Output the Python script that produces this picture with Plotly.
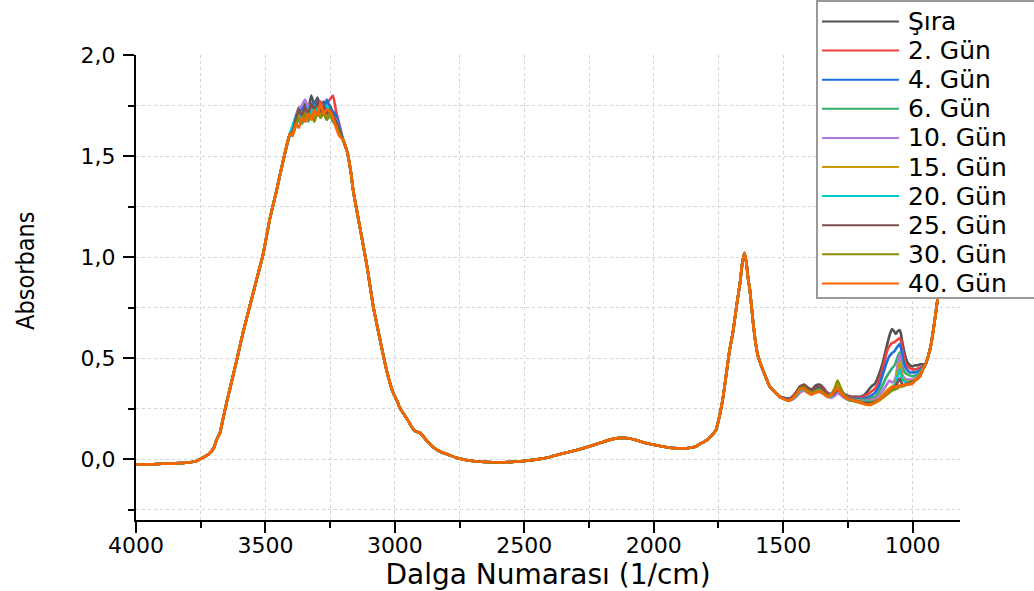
import plotly.graph_objects as go

# ---- series names and colours -------------------------------------------
labels = ["Şıra", "2. Gün", "4. Gün", "6. Gün", "10. Gün",
          "15. Gün", "20. Gün", "25. Gün", "30. Gün", "40. Gün"]
colors = ["#515151", "#F14040", "#1A6FDF", "#37AD6B", "#B177DE",
          "#CC9900", "#00CBCC", "#7D4E4E", "#8E8E00", "#FB6501"]

# ---- 4000-3405 cm-1: baseline and rising edge of the O-H band (all samples)
wn_rise = [4000, 3950, 3900, 3850, 3800, 3770, 3740, 3720, 3700, 3688, 3676,
           3664, 3650, 3637, 3611, 3586, 3560, 3534, 3508, 3483, 3457, 3431, 3405]
abs_rise = [-0.025, -0.025, -0.022, -0.02, -0.016, -0.01, 0.01, 0.025, 0.055, 0.10, 0.13,
            0.20, 0.28, 0.35, 0.49, 0.63, 0.76, 0.89, 1.02, 1.19, 1.33, 1.48, 1.61]

# ---- 3395-3215 cm-1: saturated O-H maximum, per sample
wn_top = [3395, 3383, 3371, 3359, 3347, 3335, 3323, 3311,
          3299, 3287, 3275, 3263, 3251, 3239, 3227, 3215]
top_sira = [1.63, 1.69, 1.74, 1.72, 1.76, 1.73, 1.80, 1.75, 1.79, 1.74, 1.77, 1.73, 1.75, 1.71, 1.69, 1.64]
top_g2 = [1.62, 1.67, 1.70, 1.73, 1.71, 1.75, 1.72, 1.76, 1.73, 1.77, 1.74, 1.76, 1.78, 1.80, 1.72, 1.66]
top_g4 = [1.62, 1.68, 1.71, 1.74, 1.72, 1.75, 1.73, 1.77, 1.74, 1.76, 1.73, 1.78, 1.74, 1.72, 1.70, 1.65]
top_g6 = [1.60, 1.65, 1.68, 1.66, 1.70, 1.67, 1.71, 1.68, 1.72, 1.69, 1.71, 1.68, 1.70, 1.67, 1.65, 1.62]
top_g10 = [1.64, 1.70, 1.73, 1.75, 1.78, 1.74, 1.76, 1.73, 1.77, 1.74, 1.75, 1.72, 1.73, 1.70, 1.68, 1.63]
top_g15 = [1.61, 1.66, 1.70, 1.68, 1.72, 1.69, 1.73, 1.70, 1.74, 1.71, 1.73, 1.70, 1.72, 1.69, 1.66, 1.62]
top_g20 = [1.65, 1.69, 1.68, 1.72, 1.70, 1.74, 1.71, 1.75, 1.72, 1.74, 1.71, 1.75, 1.72, 1.70, 1.67, 1.63]
top_g25 = [1.62, 1.68, 1.73, 1.70, 1.74, 1.71, 1.76, 1.73, 1.77, 1.72, 1.75, 1.71, 1.73, 1.70, 1.67, 1.63]
top_g30 = [1.61, 1.65, 1.69, 1.67, 1.71, 1.68, 1.70, 1.67, 1.72, 1.69, 1.72, 1.68, 1.71, 1.68, 1.65, 1.61]
top_g40 = [1.60, 1.66, 1.64, 1.69, 1.67, 1.71, 1.68, 1.73, 1.70, 1.76, 1.71, 1.73, 1.72, 1.69, 1.64, 1.60]

# ---- 3200-1514 cm-1: falling O-H edge, C-H, combination band, H-O-H bend
wn_mid = [3200, 3184, 3170, 3161, 3134, 3107, 3084, 3057, 3030, 3007,
          2990, 2981, 2953, 2935, 2922, 2902, 2875, 2852, 2820, 2798,
          2755, 2700, 2650, 2600, 2550, 2500, 2450, 2400, 2363, 2300,
          2247, 2200, 2160, 2131, 2100, 2070, 2043, 2000, 1950, 1910,
          1873, 1840, 1823, 1790, 1760, 1745, 1732, 1720, 1707, 1694,
          1680, 1667, 1658, 1650, 1643, 1635, 1629, 1616, 1607, 1597,
          1578, 1565, 1552, 1530, 1514]
abs_mid = [1.58, 1.52, 1.42, 1.33, 1.14, 0.95, 0.76, 0.59, 0.43, 0.33,
           0.285, 0.255, 0.20, 0.16, 0.14, 0.13, 0.09, 0.06, 0.035, 0.025,
           0.005, -0.008, -0.013, -0.015, -0.013, -0.008, 0.0, 0.012, 0.025, 0.045,
           0.065, 0.085, 0.10, 0.106, 0.104, 0.096, 0.085, 0.072, 0.06, 0.055,
           0.055, 0.062, 0.075, 0.10, 0.145, 0.22, 0.31, 0.42, 0.54, 0.63,
           0.76, 0.87, 0.97, 1.02, 0.98, 0.89, 0.84, 0.675, 0.58, 0.51,
           0.44, 0.40, 0.36, 0.33, 0.31]

# ---- 1500-962 cm-1: fingerprint region, per sample
wn_fp = [1500, 1480, 1465, 1450, 1435, 1420, 1405, 1390, 1375, 1360, 1345, 1330, 1315, 1300,
         1290, 1280, 1265, 1250, 1235, 1220, 1205, 1190, 1175, 1160, 1145,
         1130, 1115, 1100, 1090, 1080, 1070, 1065, 1060, 1050, 1045, 1040,
         1030, 1020, 1010, 1000, 990, 980, 970, 962]
fp_sira = [.305, .30, .31, .33, .36, .37, .355, .345, .365, .37, .355, .33, .325, .345,
           .36, .35, .325, .315, .31, .31, .31, .315, .335, .36, .375,
           .42, .48, .56, .61, .645, .63, .62, .63, .64, .62, .58,
           .52, .48, .465, .46, .465, .465, .47, .47]
fp_g2 = [.305, .30, .31, .33, .355, .365, .35, .34, .355, .36, .35, .325, .32, .34,
         .36, .345, .32, .31, .305, .305, .305, .31, .32, .335, .35,
         .39, .45, .53, .56, .575, .58, .585, .59, .60, .585, .55,
         .49, .46, .45, .445, .445, .45, .455, .46]
fp_g4 = [.305, .30, .305, .325, .35, .355, .345, .335, .345, .35, .34, .32, .315, .335,
         .35, .34, .315, .305, .30, .30, .30, .30, .305, .315, .33,
         .36, .42, .48, .51, .525, .535, .545, .555, .57, .55, .51,
         .46, .44, .43, .43, .43, .435, .445, .455]
fp_g6 = [.30, .295, .305, .32, .345, .35, .335, .33, .34, .345, .335, .315, .31, .33,
         .345, .335, .31, .30, .295, .295, .295, .295, .295, .305, .31,
         .335, .37, .41, .43, .45, .465, .48, .50, .53, .50, .46,
         .43, .42, .415, .41, .415, .42, .435, .45]
fp_g10 = [.30, .29, .295, .31, .33, .34, .33, .325, .33, .335, .325, .31, .305, .315,
          .33, .32, .305, .295, .29, .29, .29, .29, .29, .295, .30,
          .315, .34, .37, .39, .38, .39, .41, .45, .52, .48, .42,
          .40, .395, .395, .395, .40, .41, .425, .445]
fp_g15 = [.30, .29, .30, .315, .34, .35, .335, .33, .335, .34, .33, .315, .315, .345,
          .375, .35, .315, .30, .295, .29, .29, .285, .285, .29, .29,
          .30, .32, .34, .35, .36, .37, .39, .42, .48, .45, .41,
          .39, .385, .385, .39, .395, .405, .42, .44]
fp_g20 = [.30, .29, .30, .315, .34, .345, .33, .325, .33, .335, .325, .31, .31, .33,
          .345, .335, .31, .295, .29, .29, .285, .285, .285, .285, .285,
          .295, .31, .33, .34, .35, .36, .38, .40, .445, .42, .395,
          .385, .38, .38, .385, .39, .40, .415, .44]
fp_g25 = [.305, .295, .305, .33, .36, .365, .35, .34, .355, .36, .345, .32, .315, .33,
          .345, .335, .31, .30, .295, .29, .285, .28, .28, .28, .285,
          .295, .31, .33, .34, .35, .355, .365, .375, .40, .385, .37,
          .37, .375, .38, .385, .39, .40, .415, .44]
fp_g30 = [.30, .29, .30, .32, .35, .355, .34, .33, .335, .34, .33, .315, .32, .355,
          .39, .36, .32, .30, .29, .285, .28, .275, .27, .275, .28,
          .29, .305, .32, .33, .34, .345, .348, .35, .36, .36, .36,
          .365, .37, .375, .38, .39, .40, .415, .44]
fp_g40 = [.30, .29, .30, .32, .345, .35, .33, .32, .33, .335, .325, .31, .315, .34,
          .35, .335, .31, .30, .295, .29, .285, .275, .27, .27, .28,
          .295, .31, .33, .345, .355, .36, .36, .362, .365, .365, .365,
          .37, .37, .37, .375, .39, .40, .415, .44]

# ---- 950-820 cm-1: steep rise at the low-wavenumber end (all samples)
wn_tail = [950, 940, 930, 920, 910, 903, 890, 877, 864, 850, 835, 820]
abs_tail = [0.47, 0.51, 0.56, 0.64, 0.73, 0.80, 0.99, 1.19, 1.39, 1.60, 1.80, 1.95]

top_parts = [top_sira, top_g2, top_g4, top_g6, top_g10,
             top_g15, top_g20, top_g25, top_g30, top_g40]
fp_parts = [fp_sira, fp_g2, fp_g4, fp_g6, fp_g10,
            fp_g15, fp_g20, fp_g25, fp_g30, fp_g40]

wavenumber = wn_rise + wn_top + wn_mid + wn_fp + wn_tail

fig = go.Figure()
for name, color, top, fp in zip(labels, colors, top_parts, fp_parts):
    absorb = abs_rise + top + abs_mid + fp + abs_tail
    fig.add_trace(go.Scatter(
        x=wavenumber, y=absorb, mode="lines", name=name,
        line=dict(color=color, width=2.6, shape="spline", smoothing=0.5),
        showlegend=False,
    ))

# ---- plot-area geometry (pixels) used for the legend panel ---------------
W, H = 1034, 591
L, R, T, B = 136, 74, 55, 71
pw, ph = W - L - R, H - T - B


def px(x):
    return (x - L) / pw


def py(y):
    return (H - B - y) / ph


shapes = [dict(type="rect", xref="paper", yref="paper",
               x0=px(817), x1=px(1040), y0=py(298), y1=py(1),
               line=dict(color="#9a9a9a", width=2), fillcolor="white",
               layer="above")]
annotations = []
for i, (name, color) in enumerate(zip(labels, colors)):
    yc = 21.5 + 29.1 * i
    shapes.append(dict(type="line", xref="paper", yref="paper",
                       x0=px(822), x1=px(899), y0=py(yc), y1=py(yc),
                       line=dict(color=color, width=2), layer="above"))
    annotations.append(dict(xref="paper", yref="paper", x=px(906), y=py(yc),
                            text=name, showarrow=False, xanchor="left",
                            yanchor="middle",
                            font=dict(family="DejaVu Sans", size=25, color="black")))

# y-axis title, placed beside the tick labels
annotations.append(dict(xref="paper", yref="paper", x=px(25), y=py(271),
                        text="Absorbans", showarrow=False, textangle=-90,
                        xanchor="center", yanchor="middle",
                        font=dict(family="DejaVu Sans Condensed, sans-serif",
                                  size=25, color="black")))

axis_common = dict(
    showline=True, linecolor="black", linewidth=2, mirror=False,
    ticks="outside", tickwidth=2, tickcolor="black", ticklen=11,
    showgrid=True, gridcolor="#d4d4d4", griddash="dot", gridwidth=1,
    zeroline=False,
    tickfont=dict(family="DejaVu Sans", size=22, color="black"),
)

fig.update_layout(
    width=W, height=H,
    margin=dict(l=L, r=R, t=T, b=B, autoexpand=False),
    paper_bgcolor="white", plot_bgcolor="white",
    separators=", ",
    shapes=shapes, annotations=annotations,
    xaxis=dict(
        axis_common, range=[4000, 817], tick0=0, dtick=500, tickformat="d",
        ticklabelstandoff=-6,
        minor=dict(dtick=250, ticks="outside", ticklen=6, tickwidth=2,
                   tickcolor="black", showgrid=True, gridcolor="#d4d4d4",
                   griddash="dot", gridwidth=1),
        title=dict(text="Dalga Numarası (1/cm)", standoff=6,
                   font=dict(family="DejaVu Sans", size=28, color="black")),
    ),
    yaxis=dict(
        axis_common, range=[-0.3, 2.0], tick0=0, dtick=0.5, tickformat=".1f",
        ticklabelstandoff=3,
        minor=dict(dtick=0.25, ticks="outside", ticklen=6, tickwidth=2,
                   tickcolor="black", showgrid=True, gridcolor="#d4d4d4",
                   griddash="dot", gridwidth=1),
    ),
)

fig.write_html("out.html")
